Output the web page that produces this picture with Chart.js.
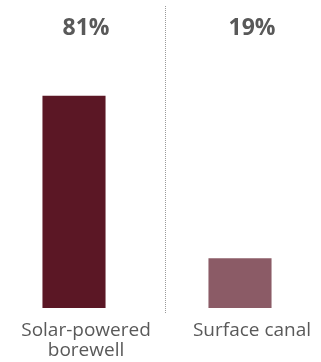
<!DOCTYPE html>
<html>
<head>
<meta charset="utf-8">
<script src="https://cdn.jsdelivr.net/npm/chart.js@4/dist/chart.umd.min.js"></script>
<style>
  html, body { margin: 0; padding: 0; background: #fff; overflow: hidden; }
  #wrap { position: relative; width: 332px; height: 362px; margin-left: -9px; }
</style>
</head>
<body>
<div id="wrap"><canvas id="myBarChart"></canvas></div>
<script>
// -- Water source share
var categories = [["Solar-powered", "borewell"], "Surface canal"];
var shares = [81, 19];
var barColors = ['#5b1725', '#8b5b66'];

// labels above the plot + dotted divider between the two columns
var valueLabels = {
  id: 'valueLabels',
  afterDatasetsDraw: function (chart) {
    var ctx = chart.ctx;
    var meta = chart.getDatasetMeta(0);
    var area = chart.chartArea;
    ctx.save();
    ctx.font = 'bold 23px "Open Sans"';
    ctx.fillStyle = '#595959';
    ctx.textAlign = 'center';
    ctx.textBaseline = 'middle';
    meta.data.forEach(function (bar, i) {
      ctx.fillText(shares[i] + '%', bar.x + 12, 28);
    });
    var mid = (meta.data[0].x + meta.data[1].x) / 2 + 8;
    ctx.strokeStyle = '#9a9a9a';
    ctx.lineWidth = 1;
    ctx.setLineDash([1, 1]);
    ctx.beginPath();
    ctx.moveTo(Math.round(mid) + 0.5, 6);
    ctx.lineTo(Math.round(mid) + 0.5, area.bottom + 5);
    ctx.stroke();
    ctx.restore();
  }
};

var ctx = document.getElementById("myBarChart");
var myBarChart = new Chart(ctx, {
  type: 'bar',
  data: {
    labels: categories,
    datasets: [{
      data: shares,
      backgroundColor: barColors,
      categoryPercentage: 1,
      barPercentage: 0.38,
    }],
  },
  options: {
    responsive: true,
    maintainAspectRatio: false,
    animation: false,
    layout: { padding: { top: 46, bottom: -12, left: 0, right: 0 } },
    plugins: { legend: { display: false }, tooltip: { enabled: false } },
    scales: {
      x: {
        grid: { display: false, drawTicks: false },
        border: { display: false },
        ticks: {
          color: '#595959',
          font: { family: 'Open Sans', size: 19, lineHeight: 1.05 },
          padding: 13,
          labelOffset: 12,
          maxRotation: 0,
          autoSkip: false,
        },
      },
      y: {
        display: false,
        min: 0,
        max: 100,
      },
    },
  },
  plugins: [valueLabels],
});
</script>
</body>
</html>
